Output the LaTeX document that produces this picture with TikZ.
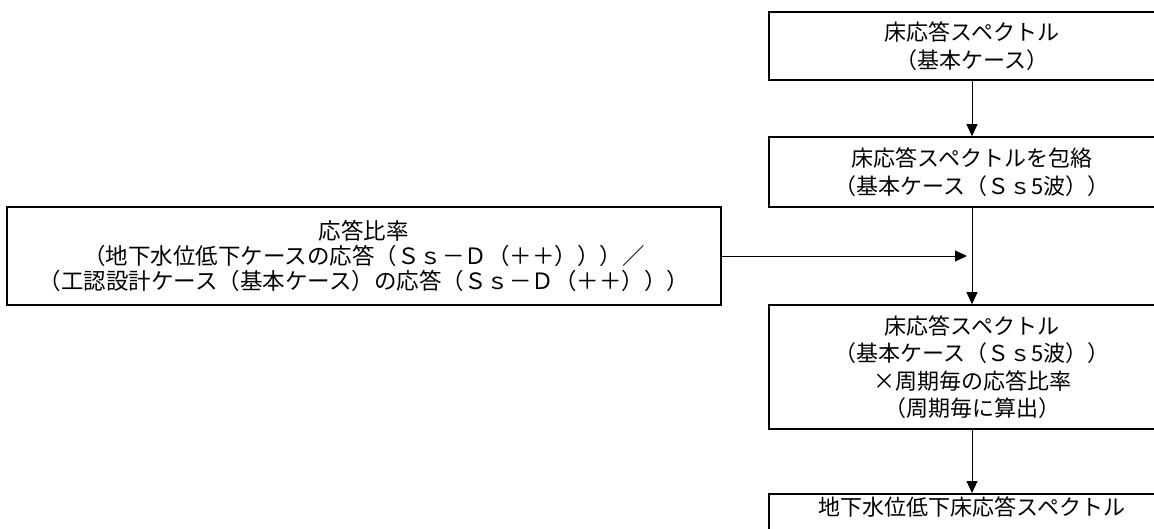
\documentclass[tikz,border=0pt]{standalone}
\usepackage{fontspec}
\newfontfamily\jpfont{Noto Sans CJK JP}
\usetikzlibrary{arrows.meta}
\tikzset{
  flowbox/.style={draw,line width=1.6pt,align=center,inner sep=0pt,
    font=\jpfont\fontsize{22}{27.5}\selectfont},
  specbox/.style={flowbox,minimum width=406pt},
  flowarrow/.style={line width=0.9pt,-{Triangle[length=12pt,width=11pt]}}
}
\begin{document}
\begin{tikzpicture}[x=1pt,y=-1pt]
	\useasboundingbox (0,0) rectangle (1154,529);
	% right column
	\node[specbox,minimum height=68pt] (base) at (972,46)
	  {床応答スペクトル\\（基本ケース）};
	\node[specbox,minimum height=70pt] (envel) at (972,172)
	  {床応答スペクトルを包絡\\（基本ケース（Ｓｓ5波））};
	\node[specbox,minimum height=124pt] (scaled) at (972,367)
	  {床応答スペクトル\\（基本ケース（Ｓｓ5波））\\×周期毎の応答比率\\（周期毎に算出）};
	\node[specbox,anchor=north,text height=19pt,text depth=60pt,inner ysep=3pt] (lowered) at (972,493)
	  {地下水位低下床応答スペクトル};
	% ratio box
	\node[flowbox,minimum width=714pt,minimum height=98pt,
	  font=\jpfont\fontsize{22.5}{25}\selectfont] (ratio) at (364,256)
	  {応答比率\\
	   （地下水位低下ケースの応答（Ｓｓ－Ｄ（＋＋）））／\\
	   （工認設計ケース（基本ケース）の応答（Ｓｓ－Ｄ（＋＋）））};
	\coordinate (meet) at (ratio.east -| envel.south);
	\draw[flowarrow] (base) -- (envel);
	\draw[flowarrow] (envel) -- (scaled);
	\draw[flowarrow] (scaled) -- (lowered);
	\draw[flowarrow,shorten >=5pt] (ratio.east) -- (meet);
\end{tikzpicture}
\end{document}
